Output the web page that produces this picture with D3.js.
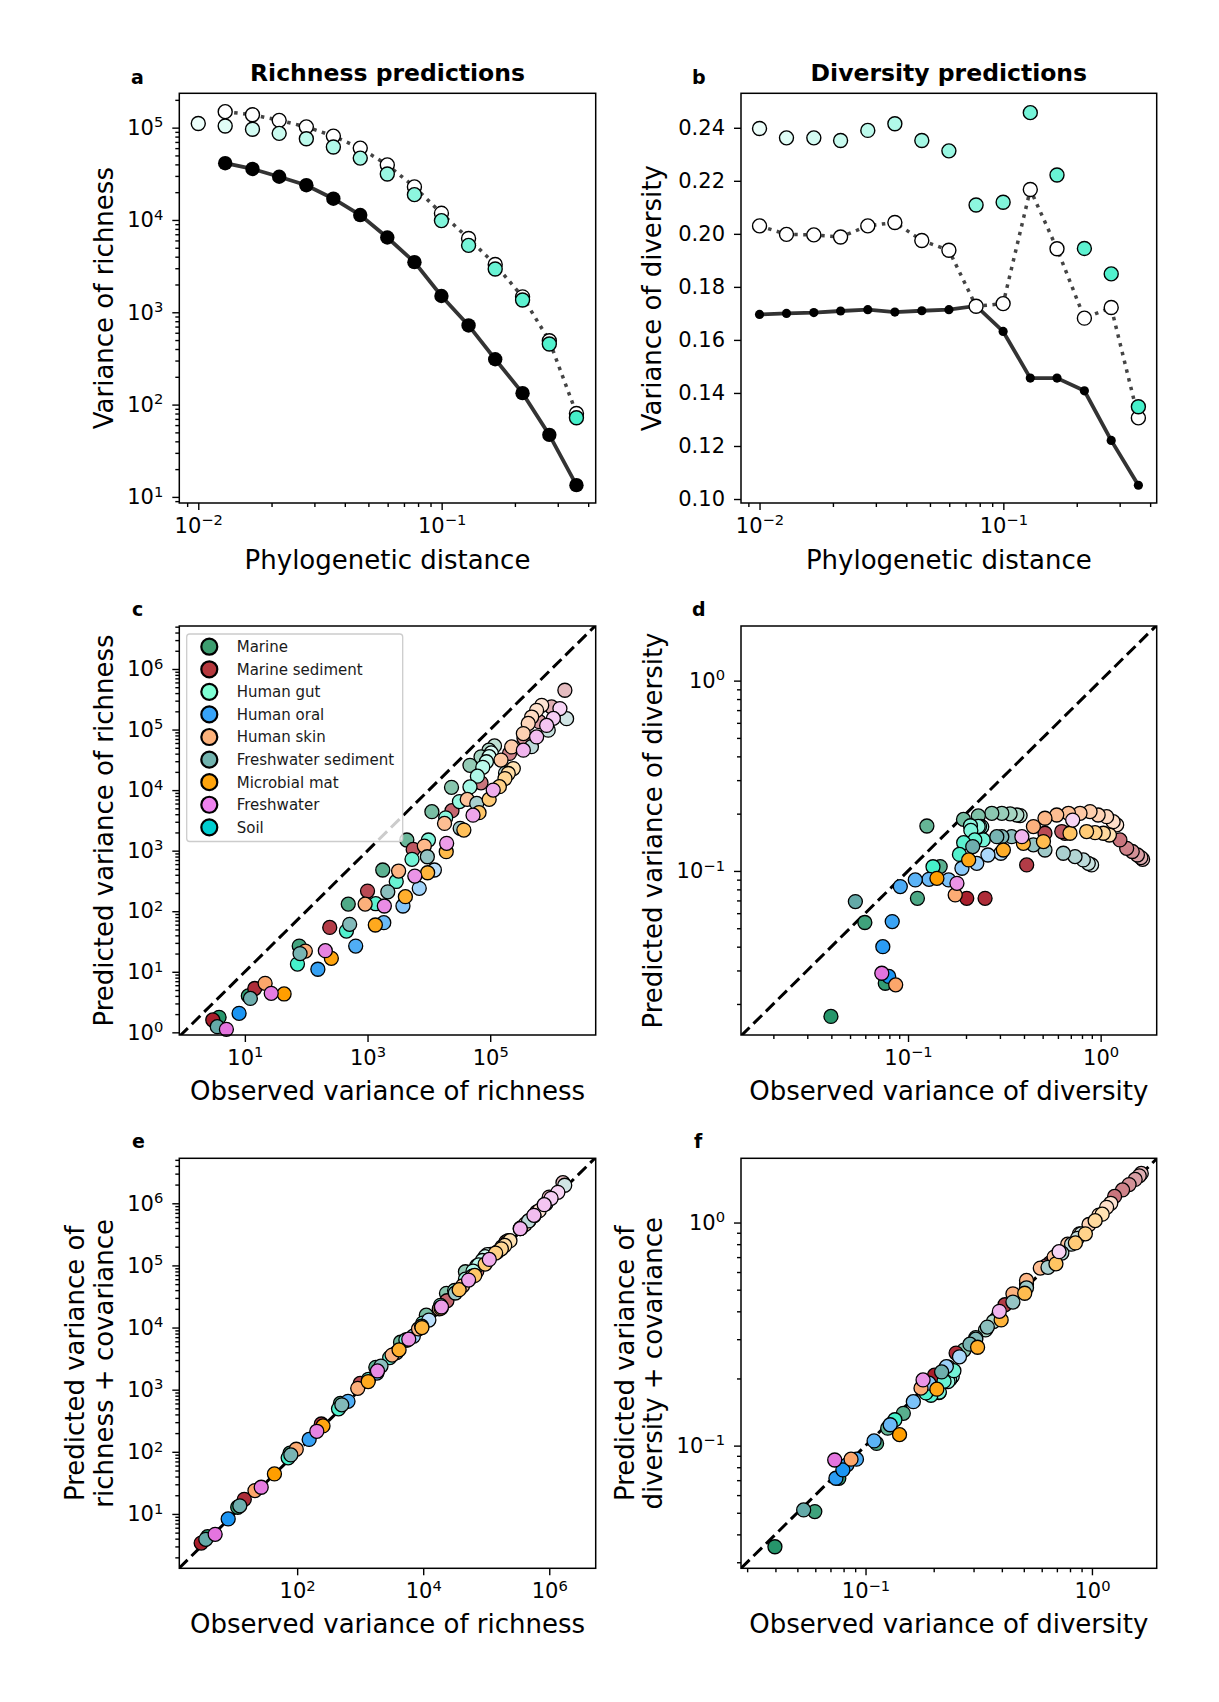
<!DOCTYPE html>
<html><head><meta charset="utf-8">
<script src="https://cdn.jsdelivr.net/npm/d3@7"></script>
<style>
body{margin:0;background:#fff;}
svg{display:block;}
</style></head><body>
<script>
// ================= DATA =================
const habitats = ["Marine","Marine sediment","Human gut","Human oral","Human skin","Freshwater sediment","Microbial mat","Freshwater","Soil"];
const legendColors = ["#3d9e70","#b5383d","#7fffd4","#37a3f8","#fdb27b","#72b3ae","#ffa40d","#ee82ee","#00ced1"];
const pointColors  = ["#26966b","#a81f2c","#45f0ca","#1b95f3","#fca66b","#64a9a8","#ff9e00","#e474df","#00c6cc"];

// panels a, b (Human gut vs phylogenetic distance)
const phyloDistance = [0.01,0.0129,0.0167,0.0215,0.0278,0.0359,0.0463,0.0598,0.0773,0.0998,0.129,0.166,0.215,0.277,0.358];
const gutRichObs  = [111000,104000,96000,86700,75700,61800,46800,31500,18800,9840,5310,2940,1360,453,72];
const gutRichCov  = [null,149000,138000,120000,102000,81000,60000,39500,22800,11800,6300,3290,1470,492,80];
const gutRichPred = [null,41200,35700,29400,23800,17000,11300,6460,3490,1500,720,310,133,47,13.4];
const gutDivObs   = [0.2397,0.2362,0.2362,0.2352,0.2390,0.2415,0.2352,0.2313,0.2109,0.2119,0.2457,0.2222,0.1945,0.1849,0.1348];
const gutDivCov   = [0.2030,0.1998,0.1996,0.1988,0.2030,0.2043,0.1975,0.1938,0.1727,0.1737,0.2167,0.1944,0.1682,0.1722,0.1306];
const gutDivPred  = [0.1696,0.1700,0.1703,0.1709,0.1714,0.1705,0.1710,0.1714,0.1728,0.1632,0.1456,0.1456,0.1408,0.1221,0.1052];

// richness per habitat (small distance -> large distance)
const marineRichObs  = [117500,95500,70800,46800,23400,11200,4370,1770,485,77,11.4,3.8];
const marineRichPred = [53700,45700,35500,25700,11100,4400,1500,479,131,26.6,4.0,1.77];
const marineRichCov  = [150000,125000,98000,79000,35500,15800,5800,2290,600,95,12.8,4.3];
const marSedRichObs  = [1650000,1000000,631000,355000,206000,70800,23800,5550,1000,242,14.5,3.0];
const marSedRichPred = [446000,236000,135000,72400,40400,13200,4570,1050,215,54,5.3,1.6];
const marSedRichCov  = [2150000,1260000,720000,400000,240000,80000,27000,6300,1260,280,17.2,3.4];
const oralRichObs    = [12300,6970,3780,1840,641,155,8.05];
const oralRichPred   = [479,239,122,64.7,26.6,11.0,2.06];
const oralRichCov    = [13200,7250,3950,1850,650,158,8.3];
const skinRichObs    = [692000,571000,474000,417000,347000,224000,150000,42200,18000,8430,3210,914,96.8,21.4];
const skinRichPred   = [251000,208000,161000,126000,85900,51600,31300,7030,2820,1190,461,131,22.0,6.44];
const skinRichCov    = [760000,630000,520000,460000,390000,250000,165000,47000,20000,9500,3600,1050,110,23.8];
const fwSedRichObs   = [1760000,883000,470000,178000,60300,32400,9440,2140,511,79.4,12.3,3.55];
const fwSedRichPred  = [151000,97700,52100,19100,6030,2340,794,209,60.7,20.0,3.63,1.24];
const fwSedRichCov   = [1950000,980000,520000,198000,67000,36000,10500,2400,570,89,13.5,3.9];
const matRichObs     = [238000,197000,174000,141000,96200,65800,37200,19200,9550,4140,1340,257,43.6];
const matRichPred    = [22700,18800,15500,11400,7030,4240,2190,962,432,174,59.2,16.7,4.3];
const matRichCov     = [250000,210000,185000,158000,105000,69000,40700,20500,10000,4370,1350,261,44];
const fwRichObs      = [1370000,1070000,832000,571000,347000,112000,52500,19500,5900,1880,205,26.9,5.0];
const fwRichPred     = [222000,153000,117000,75500,45700,10000,3850,1320,381,122,22.3,4.41,1.12];
const fwRichCov      = [1500000,1200000,950000,640000,390000,125000,58000,21500,6500,2000,214,26.9,4.7];
const soilRichObs = [], soilRichPred = [], soilRichCov = [];

// diversity per habitat (small distance -> large distance)
const marineDivObs  = [0.3819,0.3673,0.3388,0.3069,0.2723,0.2317,0.1941,0.1253,0.1469,0.1119,0.0597,0.0762,0.0398];
const marineDivPred = [0.1954,0.1968,0.1995,0.2009,0.2009,0.1945,0.1866,0.1722,0.1054,0.0718,0.0536,0.0257,0.0172];
const marineDivCov  = [0.375,0.36,0.33,0.305,0.268,0.225,0.19,0.1197,0.1396,0.1023,0.0506,0.0714,0.0352];
const marSedDivObs  = [1.652,1.618,1.552,1.459,1.365,1.259,0.6531,0.6281,0.514,0.413,0.2512,0.2018];
const marSedDivPred = [0.1151,0.1175,0.1213,0.1265,0.1315,0.1456,0.1578,0.1611,0.1578,0.1076,0.0718,0.0718];
const marSedDivCov  = [1.66,1.62,1.56,1.48,1.40,1.31,0.66,0.64,0.53,0.428,0.26,0.207];
const oralDivObs    = [0.3034,0.2600,0.2275,0.1905,0.1626,0.1285,0.1091,0.0912,0.0828,0.0740,0.0794];
const oralDivPred   = [0.1239,0.1213,0.1096,0.1033,0.0897,0.0904,0.0897,0.0828,0.0542,0.0400,0.0279];
const oralDivCov    = [0.29,0.25,0.226,0.1905,0.1574,0.124,0.105,0.0869,0.082,0.0714,0.0778];
const skinDivObs    = [1.211,1.161,1.074,0.9705,0.881,0.7816,0.6808,0.5916,0.514,0.4477,0.1758,0.0863];
const skinDivPred   = [0.1746,0.1815,0.1928,0.1968,0.2051,0.2009,0.2009,0.1968,0.1892,0.171,0.0748,0.0252];
const skinDivCov    = [1.22,1.17,1.08,0.98,0.89,0.80,0.70,0.625,0.55,0.479,0.181,0.0869];
const fwSedDivObs   = [0.8974,0.863,0.8128,0.7362,0.6397,0.514,0.4477,0.3451,0.3069,0.2891,0.2168,0.0533];
const fwSedDivPred  = [0.1076,0.1096,0.1143,0.1189,0.1239,0.1288,0.1371,0.1514,0.1514,0.1514,0.1343,0.069];
const fwSedDivCov   = [0.89,0.85,0.80,0.73,0.63,0.51,0.44,0.34,0.30,0.285,0.214,0.0515];
const matDivObs     = [1.11,1.033,0.9354,0.8453,0.6934,0.5047,0.3972,0.3126,0.2065,0.1413];
const matDivPred    = [0.1545,0.1578,0.1589,0.1611,0.1578,0.1426,0.1396,0.1288,0.1143,0.0915];
const matDivCov     = [1.09,1.02,0.89,0.81,0.653,0.482,0.366,0.276,0.179,0.112];
const fwDivObs      = [0.716,0.390,0.1795,0.0731];
const fwDivPred     = [0.185,0.1514,0.0861,0.029];
const fwDivCov      = [0.74,0.40,0.197,0.0862];
const soilDivObs = [], soilDivPred = [], soilDivCov = [];

// tick values
const distTicks      = [0.01, 0.1];
const richTicksA     = [10, 100, 1000, 10000, 100000];
const divTicksB      = [0.10, 0.12, 0.14, 0.16, 0.18, 0.20, 0.22, 0.24];
const richTicksCX    = [10, 1000, 100000];
const richTicksCY    = [1, 10, 100, 1000, 10000, 100000, 1000000];
const divTicksD      = [0.1, 1];
const richTicksEX    = [100, 10000, 1000000];
const richTicksEY    = [10, 100, 1000, 10000, 100000, 1000000];

// ================= BUILD TABLES =================
const richSets = [
  {h:0, obs:marineRichObs, pred:marineRichPred, cov:marineRichCov, tmin:0.3},
  {h:1, obs:marSedRichObs, pred:marSedRichPred, cov:marSedRichCov, tmin:0.3},
  {h:2, obs:gutRichObs, pred:gutRichPred, cov:gutRichCov, tmin:0.12},
  {h:3, obs:oralRichObs, pred:oralRichPred, cov:oralRichCov, tmin:0.3},
  {h:4, obs:skinRichObs, pred:skinRichPred, cov:skinRichCov, tmin:0.3},
  {h:5, obs:fwSedRichObs, pred:fwSedRichPred, cov:fwSedRichCov, tmin:0.3},
  {h:6, obs:matRichObs, pred:matRichPred, cov:matRichCov, tmin:0.3},
  {h:7, obs:fwRichObs, pred:fwRichPred, cov:fwRichCov, tmin:0.3},
  {h:8, obs:soilRichObs, pred:soilRichPred, cov:soilRichCov, tmin:0.3}
];
const divSets = [
  {h:0, obs:marineDivObs, pred:marineDivPred, cov:marineDivCov, tmin:0.3},
  {h:1, obs:marSedDivObs, pred:marSedDivPred, cov:marSedDivCov, tmin:0.3},
  {h:2, obs:gutDivObs, pred:gutDivPred, cov:gutDivCov, tmin:0.12},
  {h:3, obs:oralDivObs, pred:oralDivPred, cov:oralDivCov, tmin:0.3},
  {h:4, obs:skinDivObs, pred:skinDivPred, cov:skinDivCov, tmin:0.3},
  {h:5, obs:fwSedDivObs, pred:fwSedDivPred, cov:fwSedDivCov, tmin:0.3},
  {h:6, obs:matDivObs, pred:matDivPred, cov:matDivCov, tmin:0.3},
  {h:7, obs:fwDivObs, pred:fwDivPred, cov:fwDivCov, tmin:0.3},
  {h:8, obs:soilDivObs, pred:soilDivPred, cov:soilDivCov, tmin:0.3}
];

// ================= DRAW =================
const FONT = "'DejaVu Sans', 'Liberation Sans', sans-serif";
const TICKFONT = 21, SUPFONT = 14.7;
const svg = d3.select("body").append("svg").attr("width",1219).attr("height",1702).style("font-family",FONT);
svg.append("rect").attr("width",1219).attr("height",1702).attr("fill","#fff");

const colL = {x0:179.3, x1:595.7}, colR = {x0:741, x1:1156.7};
const rowY = [{y0:93.3,y1:503},{y0:626,y1:1035},{y0:1158.3,y1:1568.3}];
function box(col,row){ return {x0:col.x0,x1:col.x1,y0:rowY[row].y0,y1:rowY[row].y1}; }

function logMinors(lo, hi){
  const out=[];
  for(let e=Math.floor(Math.log10(lo))-1;e<=Math.ceil(Math.log10(hi));e++){
    for(let m=2;m<=9;m++){ const v=m*Math.pow(10,e); if(v>=lo*0.9999 && v<=hi*1.0001) out.push(v); }
  }
  return out;
}
function supEach(d){
  const t=d3.select(this); const e=Math.round(Math.log10(d));
  t.text(null);
  t.append("tspan").text("10");
  t.append("tspan").attr("font-size",SUPFONT+"px").attr("dy","-7.5").text(e<0?"\u2212"+(-e):String(e));
}
function styleAxis(g){
  g.attr("font-family",FONT).attr("font-size",TICKFONT);
  g.select(".domain").remove();
  g.selectAll(".tick line").attr("stroke","#000").attr("stroke-width",1.4);
  g.selectAll(".tick text").attr("fill","#000");
}
function axes(b, xs, ys, o){
  const gx=svg.append("g").attr("transform",`translate(0,${b.y1})`)
    .call(d3.axisBottom(xs).tickValues(o.xMajor).tickSize(7).tickPadding(8).tickFormat(()=>""));
  styleAxis(gx); gx.selectAll(".tick text").each(supEach);
  if(o.xMinor && o.xMinor.length){
    const m=svg.append("g").attr("transform",`translate(0,${b.y1})`)
      .call(d3.axisBottom(xs).tickValues(o.xMinor).tickSize(4).tickFormat(()=>""));
    styleAxis(m); m.selectAll("text").remove();
  }
  const gy=svg.append("g").attr("transform",`translate(${b.x0},0)`)
    .call(d3.axisLeft(ys).tickValues(o.yMajor).tickSize(7).tickPadding(9).tickFormat(o.yFmt?o.yFmt:()=>""));
  styleAxis(gy);
  if(!o.yFmt) gy.selectAll(".tick text").each(supEach);
  if(o.yMinor && o.yMinor.length){
    const m=svg.append("g").attr("transform",`translate(${b.x0},0)`)
      .call(d3.axisLeft(ys).tickValues(o.yMinor).tickSize(4).tickFormat(()=>""));
    styleAxis(m); m.selectAll("text").remove();
  }
}
function spine(b){
  svg.append("rect").attr("x",b.x0).attr("y",b.y0).attr("width",b.x1-b.x0).attr("height",b.y1-b.y0)
    .attr("fill","none").attr("stroke","#000").attr("stroke-width",1.5);
}
function xLabel(b, txt, y){
  svg.append("text").attr("x",(b.x0+b.x1)/2).attr("y",y).attr("text-anchor","middle")
    .attr("font-size",26).attr("fill","#000").text(txt);
}
function yLabel(b, lines, xs){
  const cy=(b.y0+b.y1)/2;
  lines.forEach((ln,i)=>{
    svg.append("text").attr("transform",`translate(${xs[i]},${cy}) rotate(-90)`).attr("text-anchor","middle")
      .attr("font-size",26).attr("fill","#000").text(ln);
  });
}
function letter(x,y,t){
  svg.append("text").attr("x",x).attr("y",y).attr("font-size",19).attr("font-weight","bold").attr("fill","#000").text(t);
}
let clipId=0;
function clipFor(b){
  const id="clip"+(clipId++);
  svg.append("clipPath").attr("id",id).append("rect").attr("x",b.x0).attr("y",b.y0).attr("width",b.x1-b.x0).attr("height",b.y1-b.y0);
  return id;
}
function diagonal(b, xs, ys){
  const id=clipFor(b);
  const lo=Math.min(xs.domain()[0],ys.domain()[0]), hi=Math.max(xs.domain()[1],ys.domain()[1]);
  svg.append("line").attr("clip-path",`url(#${id})`)
    .attr("x1",xs(lo)).attr("y1",ys(lo)).attr("x2",xs(hi)).attr("y2",ys(hi))
    .attr("stroke","#000").attr("stroke-width",3).attr("stroke-dasharray","12,5.5");
}
function shade(h, i, n, tmin){
  const t = n>1 ? tmin+(1-tmin)*i/(n-1) : 1;
  return d3.interpolateRgb("#ffffff", pointColors[h])(t);
}
function scatter(b, xs, ys, sets, xKey, yKey){
  const pts=[];
  sets.forEach(s=>{
    const n=s[xKey].length;
    s[xKey].forEach((xv,i)=>{
      const yv=s[yKey][i];
      if(xv==null||yv==null) return;
      pts.push({x:xv,y:yv,c:shade(s.h,i,n,s.tmin)});
    });
  });
  svg.append("g").selectAll("circle").data(pts).join("circle")
    .attr("cx",d=>xs(d.x)).attr("cy",d=>ys(d.y)).attr("r",7)
    .attr("fill",d=>d.c).attr("stroke","#000").attr("stroke-width",1.3);
}

// ---------- Panel a ----------
{
  const b=box(colL,0);
  const xs=d3.scaleLog().domain([Math.pow(10,-2.078),Math.pow(10,-0.367)]).range([b.x0,b.x1]);
  const ys=d3.scaleLog().domain([Math.pow(10,0.934),Math.pow(10,5.372)]).range([b.y1,b.y0]);
  axes(b,xs,ys,{xMajor:distTicks,xMinor:logMinors(xs.domain()[0],xs.domain()[1]),yMajor:richTicksA,yMinor:logMinors(ys.domain()[0],ys.domain()[1])});
  const idx=d3.range(phyloDistance.length);
  svg.append("path").attr("d",d3.line().defined(i=>gutRichCov[i]!=null).x(i=>xs(phyloDistance[i])).y(i=>ys(gutRichCov[i]))(idx))
    .attr("fill","none").attr("stroke","#444").attr("stroke-width",3.5).attr("stroke-dasharray","3.5,5.5");
  svg.append("path").attr("d",d3.line().defined(i=>gutRichPred[i]!=null).x(i=>xs(phyloDistance[i])).y(i=>ys(gutRichPred[i]))(idx))
    .attr("fill","none").attr("stroke","#333").attr("stroke-width",3.8);
  svg.append("g").selectAll("circle").data(idx.filter(i=>gutRichPred[i]!=null)).join("circle")
    .attr("cx",i=>xs(phyloDistance[i])).attr("cy",i=>ys(gutRichPred[i])).attr("r",7.2).attr("fill","#000");
  svg.append("g").selectAll("circle").data(idx.filter(i=>gutRichCov[i]!=null)).join("circle")
    .attr("cx",i=>xs(phyloDistance[i])).attr("cy",i=>ys(gutRichCov[i])).attr("r",7)
    .attr("fill","#fff").attr("stroke","#000").attr("stroke-width",1.4);
  svg.append("g").selectAll("circle").data(idx).join("circle")
    .attr("cx",i=>xs(phyloDistance[i])).attr("cy",i=>ys(gutRichObs[i])).attr("r",7)
    .attr("fill",i=>shade(2,i,15,0.1)).attr("stroke","#000").attr("stroke-width",1.4);
  spine(b);
  letter(131,84,"a");
  svg.append("text").attr("x",(b.x0+b.x1)/2).attr("y",81).attr("text-anchor","middle").attr("font-size",23.5).attr("font-weight","bold").attr("fill","#000").text("Richness predictions");
  xLabel(b,"Phylogenetic distance",569);
  yLabel(b,["Variance of richness"],[113]);
}

// ---------- Panel b ----------
{
  const b=box(colR,0);
  const xs=d3.scaleLog().domain([Math.pow(10,-2.076),Math.pow(10,-0.371)]).range([b.x0,b.x1]);
  const ys=d3.scaleLinear().domain([0.0985,0.253]).range([b.y1,b.y0]);
  axes(b,xs,ys,{xMajor:distTicks,xMinor:logMinors(xs.domain()[0],xs.domain()[1]),yMajor:divTicksB,yFmt:d3.format(".2f")});
  const idx=d3.range(phyloDistance.length);
  svg.append("path").attr("d",d3.line().x(i=>xs(phyloDistance[i])).y(i=>ys(gutDivCov[i]))(idx))
    .attr("fill","none").attr("stroke","#444").attr("stroke-width",3.5).attr("stroke-dasharray","3.5,5.5");
  svg.append("path").attr("d",d3.line().x(i=>xs(phyloDistance[i])).y(i=>ys(gutDivPred[i]))(idx))
    .attr("fill","none").attr("stroke","#333").attr("stroke-width",3.8);
  svg.append("g").selectAll("circle").data(idx).join("circle")
    .attr("cx",i=>xs(phyloDistance[i])).attr("cy",i=>ys(gutDivPred[i])).attr("r",4.6).attr("fill","#000");
  svg.append("g").selectAll("circle").data(idx).join("circle")
    .attr("cx",i=>xs(phyloDistance[i])).attr("cy",i=>ys(gutDivCov[i])).attr("r",7)
    .attr("fill","#fff").attr("stroke","#000").attr("stroke-width",1.4);
  svg.append("g").selectAll("circle").data(idx).join("circle")
    .attr("cx",i=>xs(phyloDistance[i])).attr("cy",i=>ys(gutDivObs[i])).attr("r",7)
    .attr("fill",i=>shade(2,i,15,0.1)).attr("stroke","#000").attr("stroke-width",1.4);
  spine(b);
  letter(692,84,"b");
  svg.append("text").attr("x",(b.x0+b.x1)/2).attr("y",81).attr("text-anchor","middle").attr("font-size",23.5).attr("font-weight","bold").attr("fill","#000").text("Diversity predictions");
  xLabel(b,"Phylogenetic distance",569);
  yLabel(b,["Variance of diversity"],[661]);
}

// ---------- Panel c ----------
{
  const b=box(colL,1);
  const xs=d3.scaleLog().domain([Math.pow(10,-0.069),Math.pow(10,6.72)]).range([b.x0,b.x1]);
  const ys=d3.scaleLog().domain([Math.pow(10,-0.044),Math.pow(10,6.71)]).range([b.y1,b.y0]);
  axes(b,xs,ys,{xMajor:richTicksCX,xMinor:[],yMajor:richTicksCY,yMinor:logMinors(ys.domain()[0],ys.domain()[1])});
  diagonal(b,xs,ys);
  scatter(b,xs,ys,richSets,"obs","pred");
  // legend
  const lg=svg.append("g");
  lg.append("rect").attr("x",186.7).attr("y",634).attr("width",216).attr("height",207.5).attr("rx",3)
    .attr("fill","#fff").attr("fill-opacity",0.8).attr("stroke","#cccccc").attr("stroke-width",1.3);
  const items=lg.selectAll("g.item").data(habitats).join("g").attr("class","item")
    .attr("transform",(d,i)=>`translate(0,${646.7+i*22.58})`);
  items.append("circle").attr("cx",209.3).attr("cy",0).attr("r",8).attr("fill",(d,i)=>legendColors[i]).attr("stroke","#000").attr("stroke-width",2.2);
  items.append("text").attr("x",236.7).attr("y",0).attr("dy","0.36em").attr("font-size",15).attr("fill","#1a1a1a").text(d=>d);
  spine(b);
  letter(132,616,"c");
  xLabel(b,"Observed variance of richness",1100);
  yLabel(b,["Predicted variance of richness"],[113]);
}

// ---------- Panel d ----------
{
  const b=box(colR,1);
  const xs=d3.scaleLog().domain([Math.pow(10,-1.867),Math.pow(10,0.291)]).range([b.x0,b.x1]);
  const ys=d3.scaleLog().domain([Math.pow(10,-1.862),Math.pow(10,0.287)]).range([b.y1,b.y0]);
  axes(b,xs,ys,{xMajor:divTicksD,xMinor:logMinors(xs.domain()[0],xs.domain()[1]),yMajor:divTicksD,yMinor:logMinors(ys.domain()[0],ys.domain()[1])});
  diagonal(b,xs,ys);
  scatter(b,xs,ys,divSets,"obs","pred");
  spine(b);
  letter(692,616,"d");
  xLabel(b,"Observed variance of diversity",1100);
  yLabel(b,["Predicted variance of diversity"],[662]);
}

// ---------- Panel e ----------
{
  const b=box(colL,2);
  const xs=d3.scaleLog().domain([Math.pow(10,0.130),Math.pow(10,6.737)]).range([b.x0,b.x1]);
  const ys=d3.scaleLog().domain([Math.pow(10,0.125),Math.pow(10,6.724)]).range([b.y1,b.y0]);
  axes(b,xs,ys,{xMajor:richTicksEX,xMinor:[],yMajor:richTicksEY,yMinor:logMinors(ys.domain()[0],ys.domain()[1])});
  diagonal(b,xs,ys);
  scatter(b,xs,ys,richSets,"obs","cov");
  spine(b);
  letter(132,1148,"e");
  xLabel(b,"Observed variance of richness",1633);
  yLabel(b,["Predicted variance of","richness + covariance"],[84,112.5]);
}

// ---------- Panel f ----------
{
  const b=box(colR,2);
  const xs=d3.scaleLog().domain([Math.pow(10,-1.55),Math.pow(10,0.286)]).range([b.x0,b.x1]);
  const ys=d3.scaleLog().domain([Math.pow(10,-1.55),Math.pow(10,0.288)]).range([b.y1,b.y0]);
  axes(b,xs,ys,{xMajor:divTicksD,xMinor:logMinors(xs.domain()[0],xs.domain()[1]),yMajor:divTicksD,yMinor:logMinors(ys.domain()[0],ys.domain()[1])});
  diagonal(b,xs,ys);
  scatter(b,xs,ys,divSets,"obs","cov");
  spine(b);
  letter(694,1148,"f");
  xLabel(b,"Observed variance of diversity",1633);
  yLabel(b,["Predicted variance of","diversity + covariance"],[634,662]);
}
</script>
</body></html>
